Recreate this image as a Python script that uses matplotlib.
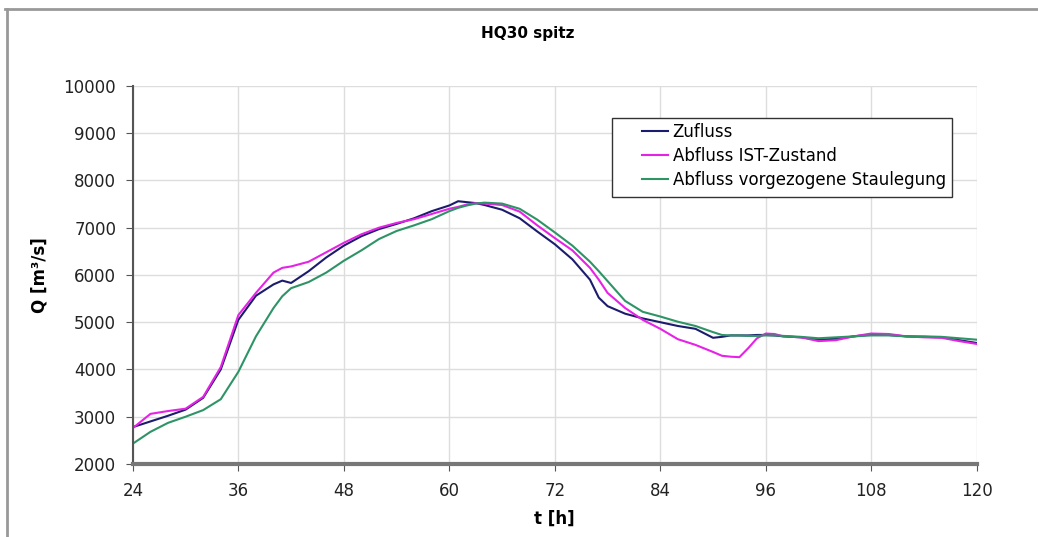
import matplotlib
matplotlib.use("Agg")
import matplotlib.pyplot as plt
from matplotlib.lines import Line2D
from matplotlib.patches import Rectangle

plt.rcParams["font.family"] = "DejaVu Sans"

# time [h]
t = [24, 26, 28, 30, 32, 34, 36, 38, 40, 41, 42, 44, 46, 48, 50, 52, 54, 56, 58, 60,
     61, 62, 63, 64, 66, 68, 70, 72, 74, 76, 77, 78, 80, 82, 84, 86, 88, 90, 91, 92,
     93, 94, 95, 96, 97, 98, 100, 102, 104, 106, 108, 110, 112, 114, 116, 118, 120]

zufluss = [2780, 2900, 3020, 3150, 3400, 4000, 5050, 5560, 5800, 5880, 5830, 6080, 6370, 6620, 6820, 6970, 7080, 7200, 7350, 7470,
           7560, 7540, 7520, 7480, 7380, 7200, 6920, 6650, 6330, 5900, 5520, 5340, 5180, 5080, 5000, 4920, 4860, 4670, 4690, 4720,
           4720, 4720, 4730, 4730, 4720, 4700, 4680, 4630, 4650, 4700, 4740, 4730, 4700, 4690, 4680, 4620, 4560]

abfluss_ist = [2760, 3060, 3120, 3170, 3420, 4050, 5150, 5620, 6050, 6150, 6180, 6280, 6480, 6680, 6860, 7000, 7100, 7180, 7290, 7400,
               7440, 7490, 7520, 7510, 7480, 7340, 7050, 6780, 6520, 6150, 5900, 5620, 5300, 5050, 4860, 4640, 4520, 4370, 4290, 4270,
               4260, 4450, 4660, 4760, 4750, 4700, 4680, 4600, 4620, 4700, 4760, 4750, 4700, 4680, 4670, 4600, 4540]

abfluss_vorg = [2430, 2680, 2870, 3000, 3140, 3370, 3950, 4700, 5300, 5550, 5720, 5850, 6050, 6300, 6520, 6760, 6930, 7050, 7180, 7350,
                7420, 7470, 7510, 7530, 7510, 7400, 7170, 6900, 6620, 6280, 6080, 5870, 5450, 5220, 5120, 5010, 4920, 4790, 4730, 4720,
                4720, 4710, 4710, 4720, 4720, 4710, 4690, 4660, 4680, 4700, 4720, 4720, 4700, 4700, 4690, 4660, 4630]

xticks = list(range(24, 121, 12))
yticks = list(range(2000, 10001, 1000))

fig = plt.figure(figsize=(10.38, 5.37), dpi=100)
ax = fig.add_axes([0.128, 0.136, 0.813, 0.704])

ax.plot(t, zufluss, color='#1c1c6e', linewidth=1.5, label='Zufluss')
ax.plot(t, abfluss_ist, color='#e622e6', linewidth=1.5, label='Abfluss IST-Zustand')
ax.plot(t, abfluss_vorg, color='#2e9466', linewidth=1.5, label='Abfluss vorgezogene Staulegung')

ax.set_xlim(24, 120)
ax.set_ylim(2000, 10000)
ax.set_xticks(xticks)
ax.set_yticks(yticks)
ax.grid(True, color='#dddddd', linewidth=1)
ax.set_axisbelow(True)
for s in ['top', 'right']:
    ax.spines[s].set_visible(False)
ax.spines['left'].set_color('#555555')
ax.spines['left'].set_linewidth(1.5)
ax.spines['bottom'].set_color('#777777')
ax.spines['bottom'].set_linewidth(3)
ax.tick_params(axis='both', labelsize=12, length=5, color='#555555', labelcolor='#222222', direction='out')
ax.tick_params(axis='x', pad=8)
ax.tick_params(axis='y', pad=7)

ax.set_xlabel('t [h]', fontsize=12, fontweight='bold', labelpad=7)
ax.set_ylabel('Q [m³/s]', fontsize=12, fontweight='bold', labelpad=11)
fig.text(0.508, 0.937, 'HQ30 spitz', ha='center', va='center', fontsize=11, fontweight='bold')

# legend box drawn separately, handles sit well inside it
box = Rectangle((0.5675, 0.706), 0.403, 0.209, transform=ax.transAxes, facecolor='white',
                edgecolor='#333333', linewidth=1, zorder=4.5, clip_on=False)
ax.add_patch(box)
leg = ax.legend(loc='upper left', bbox_to_anchor=(0.603, 0.902), fontsize=12,
                frameon=False, handlelength=1.56, handletextpad=0.3, borderpad=0,
                borderaxespad=0, labelspacing=0.37)

# outer chart frame
fig.add_artist(Line2D([0.005, 1.0], [0.983, 0.983], transform=fig.transFigure, color='#999999', linewidth=2))
fig.add_artist(Line2D([0.007, 0.007], [0.0, 0.983], transform=fig.transFigure, color='#999999', linewidth=2))

fig.savefig('out.png', dpi=100)
